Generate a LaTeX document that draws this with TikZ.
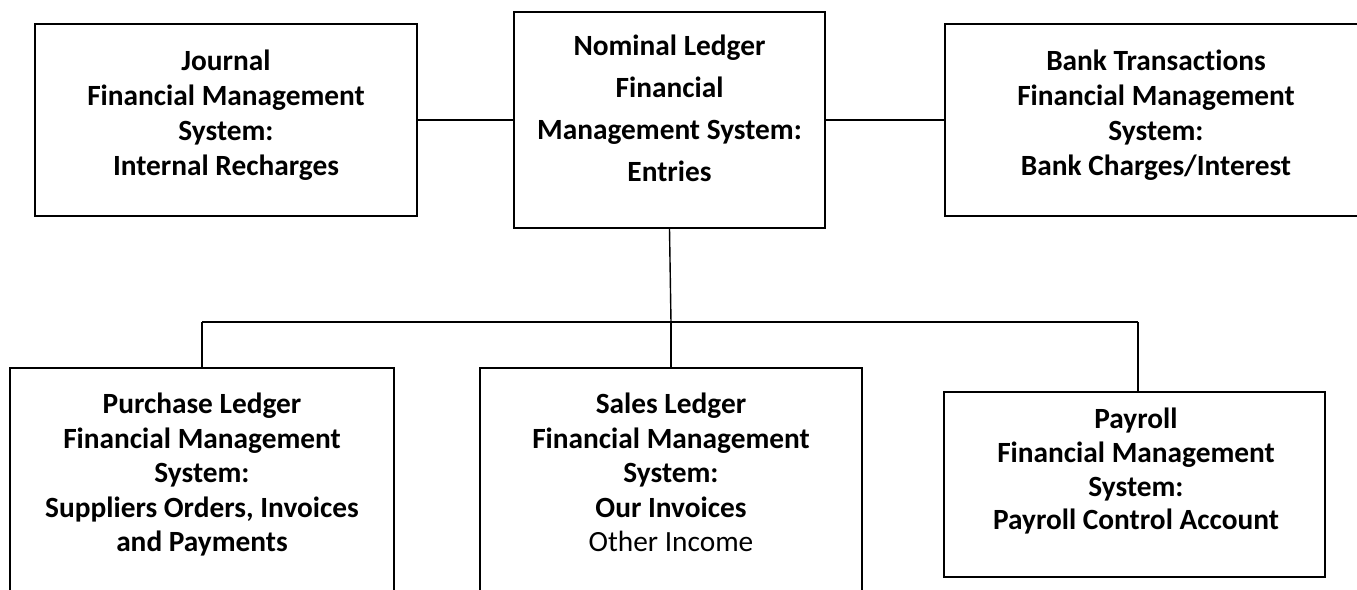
\documentclass[tikz,border=0pt]{standalone}
\usepackage{fontspec}
\setmainfont[RawFeature=-liga]{Carlito}
\usetikzlibrary{positioning}

\tikzset{
  sysbox/.style={draw, line width=1.1pt, rectangle, inner sep=0pt},
  systext/.style={align=center, anchor=north, inner sep=0pt,
    font=\bfseries\fontsize{16.7}{19.9}\selectfont},
  link/.style={line width=0.8pt}
}

\begin{document}
\begin{tikzpicture}[x=0.02cm,y=-0.02cm]
        \useasboundingbox (0,0) rectangle (1357,590);
        \clip (0,0) rectangle (1357,590);
        % top row
        \node [sysbox, minimum width=7.64cm, minimum height=3.84cm] (journal) at (226,120) {};
        \node [sysbox, minimum width=6.22cm, minimum height=4.32cm] (nominal) at (669.5,120) {};
        \node [sysbox, minimum width=9.1cm, minimum height=3.84cm] (bank) at (1172.5,120) {};
        \node [systext] (journal-txt) at (226,50) {Journal\\Financial Management\\System:\\Internal Recharges};
        \node [systext, font=\bfseries\fontsize{16.7}{23.9}\selectfont] (nominal-txt) at (669.5,35) {Nominal Ledger\\Financial\\Management System:\\Entries};
        \node [systext] (bank-txt) at (1156,50) {Bank Transactions\\Financial Management\\System:\\Bank Charges/Interest};
        % bottom row
        \node [sysbox, minimum width=7.68cm, minimum height=5.44cm] (purchase) at (202,504) {};
        \node [sysbox, minimum width=7.64cm, minimum height=5.44cm] (sales) at (671,504) {};
        \node [sysbox, minimum width=7.62cm, minimum height=3.7cm] (payroll) at (1134.5,484.5) {};
        \node [systext, font=\bfseries\fontsize{16.7}{19.6}\selectfont] (purchase-txt) at (202,393) {Purchase Ledger\\Financial Management\\System:\\Suppliers Orders, Invoices\\and Payments};
        \node [systext, font=\bfseries\fontsize{16.7}{19.6}\selectfont] (sales-txt) at (671,393) {Sales Ledger\\Financial Management\\System:\\Our Invoices\\\mdseries Other Income};
        \node [systext, font=\bfseries\fontsize{16.7}{19.1}\selectfont] (payroll-txt) at (1136,408) {Payroll\\Financial Management\\System:\\Payroll Control Account};
        % connectors
        \coordinate (bus-l) at (202,322);
        \coordinate (bus-m) at (671,322);
        \coordinate (bus-r) at (1138,322);
        \draw [link] (journal.east) -- (nominal.west);
        \draw [link] (nominal.east) -- (bank.west);
        \draw [link] (nominal.south) -- (bus-m);
        \draw [link] (bus-l) -- (bus-r);
        \draw [link] (bus-l) -- (bus-l |- purchase.north);
        \draw [link] (bus-m) -- (bus-m |- sales.north);
        \draw [link] (bus-r) -- (bus-r |- payroll.north);
    \end{tikzpicture}
\end{document}
